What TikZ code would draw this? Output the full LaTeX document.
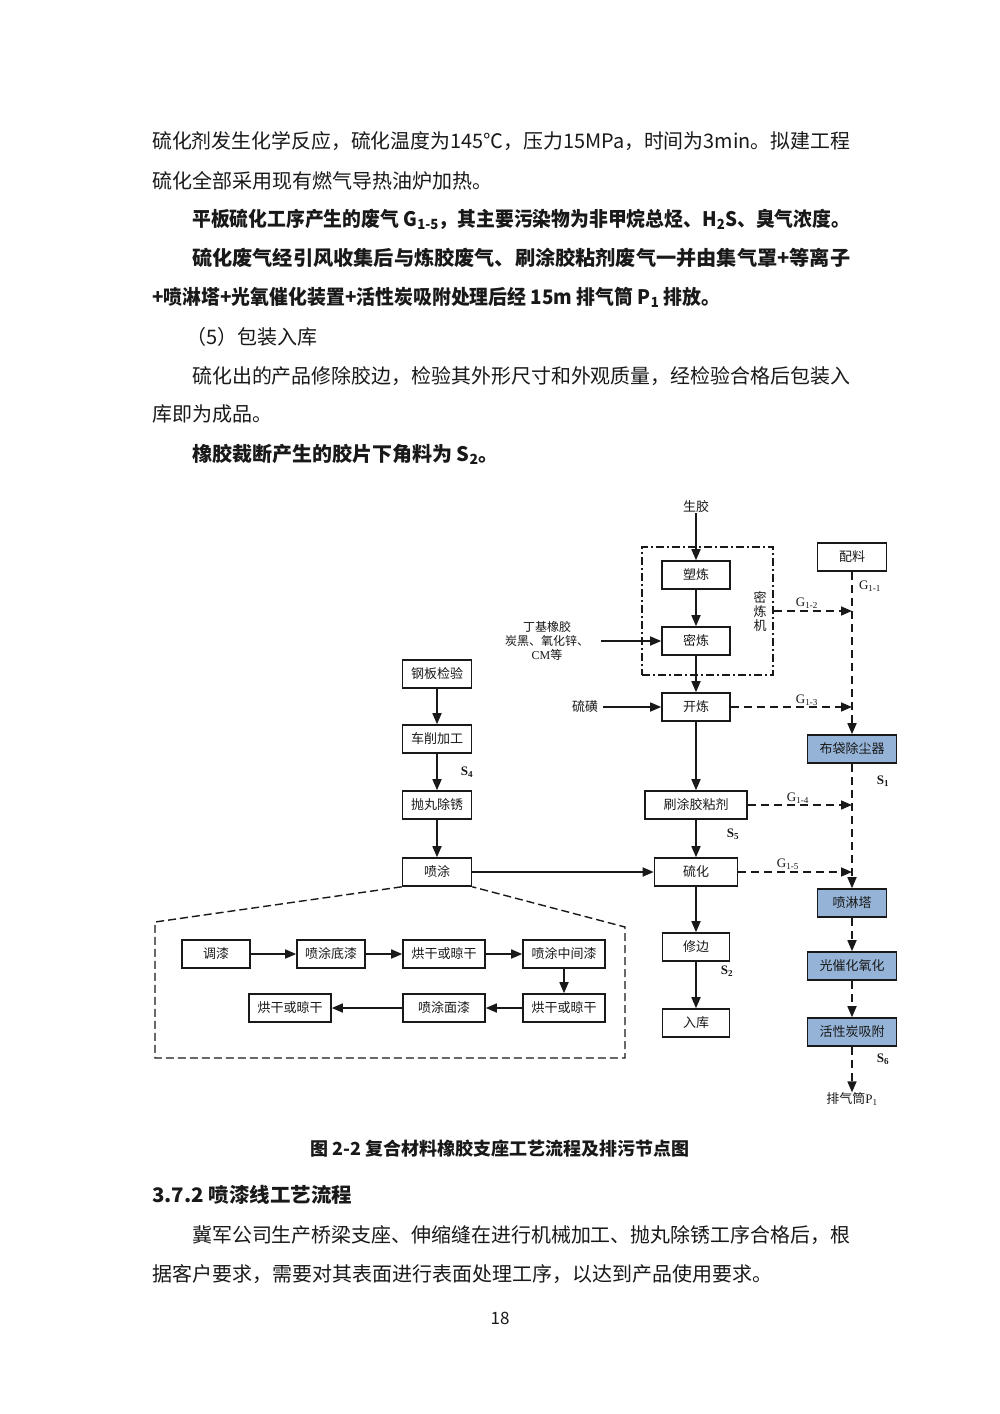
\documentclass[tikz,border=0pt]{standalone}
\usepackage{fontspec}
\usepackage{graphicx}
\setmainfont{Noto Sans CJK SC}
\newfontfamily\lat{Liberation Serif}
\usetikzlibrary{arrows.meta,calc}
\definecolor{boxblue}{RGB}{149,179,215}
\definecolor{ink}{RGB}{25,25,25}
\begin{document}
\begin{tikzpicture}[x=1pt,y=-1pt,
  box/.style={draw=ink, line width=1.6pt, minimum height=28pt, inner sep=0pt, fill=white, text=ink, font=\fontsize{13}{15}\selectfont},
  bbox/.style={box, fill=boxblue},
  arr/.style={draw=ink, line width=1.6pt, -{Triangle[length=11pt,width=9pt]}},
  darr/.style={arr, dash pattern=on 8pt off 5pt},
  lbl/.style={inner sep=0pt, text=ink, font=\fontsize{13}{15}\selectfont},
  glbl/.style={inner sep=0pt, text=ink, font=\lat\fontsize{13}{15}\selectfont},
  slbl/.style={inner sep=0pt, text=ink, font=\lat\bfseries\fontsize{13}{15}\selectfont},
  body/.style={anchor=west, inner sep=0pt, text=ink, font=\fontsize{20}{24}\selectfont},
  bbody/.style={body, font=\bfseries\fontsize{20}{24}\selectfont}
]
\useasboundingbox (0,0) rectangle (1000,1414);
\fill[white] (0,0) rectangle (1000,1414);

% ---------- upper text ----------
\node[body] (t1) at (152,141) {\resizebox{698pt}{\height}{硫化剂发生化学反应，硫化温度为145℃，压力15MPa，时间为3min。拟建工程}};
\node[body] (t2) at (152,181) {硫化全部采用现有燃气导热油炉加热。};
\node[bbody] (t3) at (192,219) {\resizebox{658pt}{\height}{平板硫化工序产生的废气 G\textsubscript{1-5}，其主要污染物为非甲烷总烃、H\textsubscript{2}S、臭气浓度。}};
\node[bbody] (t4) at (192,258) {\resizebox{658pt}{\height}{硫化废气经引风收集后与炼胶废气、刷涂胶粘剂废气一并由集气罩+等离子}};
\node[bbody] (t5) at (152,297) {\resizebox{568pt}{\height}{+喷淋塔+光氧催化装置+活性炭吸附处理后经 15m 排气筒 P\textsubscript{1} 排放。}};
\node[body] (t6) at (186,337) {（5）包装入库};
\node[body] (t7) at (192,376) {\resizebox{658pt}{\height}{硫化出的产品修除胶边，检验其外形尺寸和外观质量，经检验合格后包装入}};
\node[body] (t8) at (152,414) {库即为成品。};
\node[bbody] (t9) at (192,454) {橡胶裁断产生的胶片下角料为 S\textsubscript{2}。};

% ---------- lower text ----------
\node[inner sep=0pt, text=ink, font=\bfseries\fontsize{18}{22}\selectfont] (cap) at (500,1149) {图 2-2 复合材料橡胶支座工艺流程及排污节点图};
\node[bbody] (h1) at (152,1195) {\resizebox{200pt}{\height}{3.7.2 喷漆线工艺流程}};
\node[body] (b1) at (192,1235) {\resizebox{658pt}{\height}{冀军公司生产桥梁支座、伸缩缝在进行机械加工、抛丸除锈工序合格后，根}};
\node[body] (b2) at (152,1274) {据客户要求，需要对其表面进行表面处理工序，以达到产品使用要求。};
\node[inner sep=0pt, text=ink, font=\fontsize{17}{20}\selectfont] (pg) at (500,1318) {18};

% ---------- main column ----------
\node[lbl] (sj) at (696,507) {生胶};
\node[box, minimum width=68pt] (sl) at (696,575) {塑炼};
\node[box, minimum width=68pt] (ml) at (696,641) {密炼};
\node[draw=ink, line width=1.3pt, dash pattern=on 8pt off 3pt on 2pt off 3pt, minimum width=131pt, minimum height=128pt, inner sep=0pt] (mlj) at (707.5,611) {};
\node[lbl, align=center, font=\fontsize{13}{14}\selectfont] (mljt) at (760,611) {密\\炼\\机};
\node[lbl, align=center, font=\fontsize{12}{14}\selectfont] (dj) at (547,641) {丁基橡胶\\炭黑、氧化锌、\\{\lat CM}等};
\node[box, minimum width=68pt] (kl) at (696,707) {开炼};
\node[lbl] (lh) at (585,707) {硫磺};
\node[box, minimum width=102pt] (st) at (696,805) {刷涂胶粘剂};
\node[box, minimum width=83pt] (lhua) at (696,872) {硫化};
\node[box, minimum width=67pt] (xb) at (696,947) {修边};
\node[box, minimum width=67pt] (rk) at (696,1023) {入库};

\draw[arr] (sj) -- (sl);
\draw[arr] (sl) -- (ml);
\draw[arr] (ml) -- (kl);
\draw[arr, shorten <=12pt] (dj.east) -- (ml.west);
\draw[arr, shorten <=5pt] (lh) -- (kl);
\draw[arr] (kl) -- (st);
\draw[arr] (st) -- (lhua);
\draw[arr] (lhua) -- (xb);
\draw[arr] (xb) -- (rk);

% ---------- right column ----------
\node[box, minimum width=69pt] (pl) at (852,557) {配料};
\node[bbox, minimum width=89pt] (bd) at (852,749) {布袋除尘器};
\node[bbox, minimum width=69pt] (pl2) at (852,903) {喷淋塔};
\node[bbox, minimum width=89pt] (gc) at (852,966) {光催化氧化};
\node[bbox, minimum width=89pt] (hx) at (852,1032) {活性炭吸附};
\node[lbl] (pq) at (852,1099) {排气筒{\lat P\textsubscript{1}}};

\draw[darr] (pl) -- (bd);
\draw[darr] (bd) -- (pl2);
\draw[darr] (pl2) -- (gc);
\draw[darr] (gc) -- (hx);
\draw[darr] (hx) -- (pq);

\draw[darr] (mlj.east) -- (mlj.east -| pl.south);
\draw[darr] (kl.east) -- (kl.east -| pl.south);
\draw[darr] (st.east) -- (st.east -| pl.south);
\draw[darr] (lhua.east) -- (lhua.east -| pl.south);

\node[glbl] (g11) at (870,586) {G\textsubscript{1-1}};
\node[glbl] (g12) at (807,603) {G\textsubscript{1-2}};
\node[glbl] (g13) at (807,700) {G\textsubscript{1-3}};
\node[glbl] (g14) at (798,798) {G\textsubscript{1-4}};
\node[glbl] (g15) at (788,864) {G\textsubscript{1-5}};
\node[slbl] (s1) at (883,781) {S\textsubscript{1}};
\node[slbl] (s5) at (733,834) {S\textsubscript{5}};
\node[slbl] (s2) at (727,971) {S\textsubscript{2}};
\node[slbl] (s6) at (883,1059) {S\textsubscript{6}};

% ---------- left column ----------
\node[box, minimum width=69pt] (gb) at (437,674) {钢板检验};
\node[box, minimum width=69pt] (cx) at (437,739) {车削加工};
\node[box, minimum width=69pt] (pw) at (437,805) {抛丸除锈};
\node[box, minimum width=69pt] (pt) at (437,872) {喷涂};
\node[slbl] (s4) at (467,772) {S\textsubscript{4}};
\draw[arr] (gb) -- (cx);
\draw[arr] (cx) -- (pw);
\draw[arr] (pw) -- (pt);
\draw[arr] (pt) -- (lhua);

% ---------- spray detail ----------
\draw[ink, line width=1.4pt, dash pattern=on 8pt off 4pt]
  (pt.south west) -- (155,922) -- (155,1058) -- (625,1058) -- (625,927) -- (pt.south east);
\node[box, minimum width=68pt] (tq) at (216,954) {调漆};
\node[box, minimum width=68pt] (dq) at (331,954) {喷涂底漆};
\node[box, minimum width=82pt] (hg1) at (444,954) {烘干或晾干};
\node[box, minimum width=82pt] (zj) at (564,954) {喷涂中间漆};
\node[box, minimum width=82pt] (hg2) at (564,1008) {烘干或晾干};
\node[box, minimum width=82pt] (mq) at (444,1008) {喷涂面漆};
\node[box, minimum width=82pt] (hg3) at (290,1008) {烘干或晾干};
\draw[arr] (tq) -- (dq);
\draw[arr] (dq) -- (hg1);
\draw[arr] (hg1) -- (zj);
\draw[arr] (zj) -- (hg2);
\draw[arr] (hg2) -- (mq);
\draw[arr] (mq) -- (hg3);
\end{tikzpicture}
\end{document}
